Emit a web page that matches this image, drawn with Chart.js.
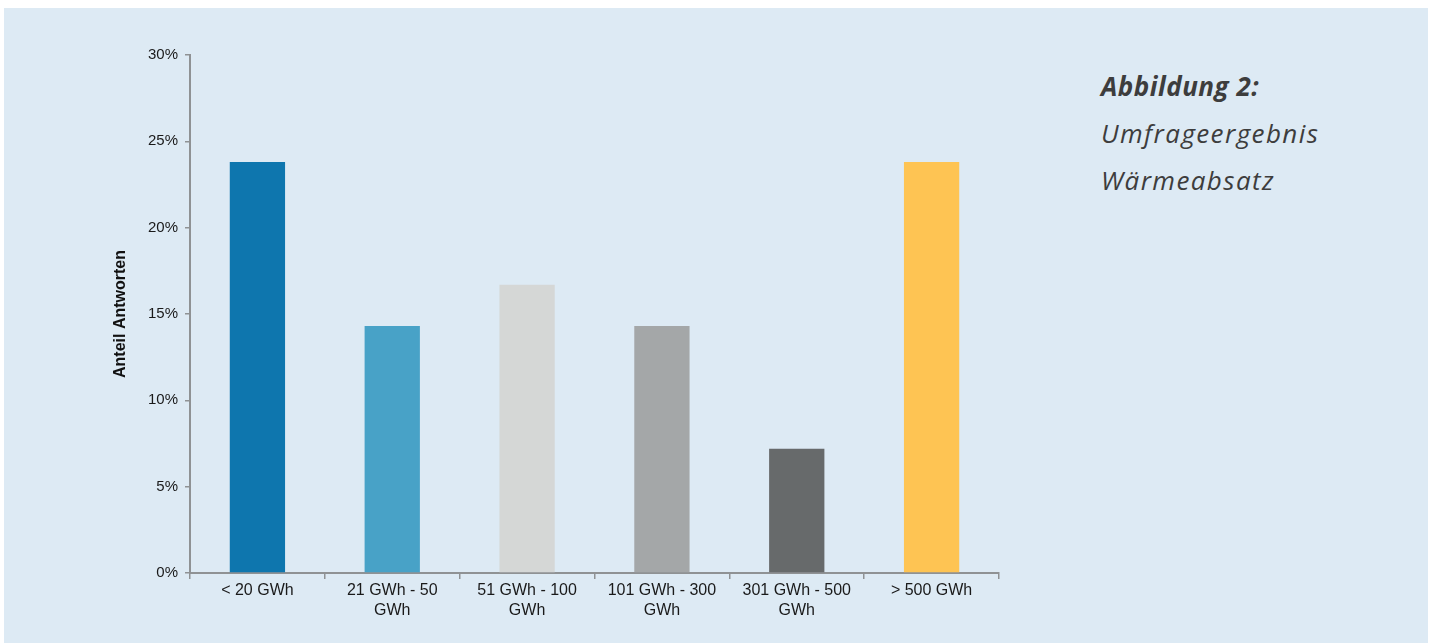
<!DOCTYPE html>
<html lang="de">

<head>
  <meta charset="UTF-8" />
  <title>Umfrageergebnis Wärmeabsatz</title>
  <style>
    html, body { margin: 0; padding: 0; background: #ffffff; }
    .panel {
      position: absolute; left: 4px; top: 8px; width: 1424px; height: 635px;
      background: #ddeaf4;
    }
    .chartbox { position: absolute; left: 0; top: 0; width: 1050px; height: 635px; }
    .caption {
      position: absolute; left: 1097px; top: 55px;
      font-family: "Open Sans", sans-serif; font-style: italic; font-size: 26px;
      line-height: 47px; color: #3d3d3d; letter-spacing: 1.4px;
    }
    .caption b { font-weight: 700; letter-spacing: 0.5px; }
  </style>
</head>

<body>
  <div class="panel">
    <div class="chartbox"><canvas id="chart"></canvas></div>
    <div class="caption"><b>Abbildung 2:</b><br>Umfrageergebnis<br>Wärmeabsatz</div>
  </div>

  <script src="https://cdn.jsdelivr.net/npm/chart.js@4.4.1/dist/chart.umd.min.js"></script>
  <script>
    // Wärmeabsatz-Klassen und Anteil der Antworten (in %)
    var categories = [
      "< 20 GWh",
      ["21 GWh - 50", "GWh"],
      ["51 GWh - 100", "GWh"],
      ["101 GWh - 300", "GWh"],
      ["301 GWh - 500", "GWh"],
      "> 500 GWh"
    ];
    var shares = [23.8, 14.3, 16.7, 14.3, 7.2, 23.8];
    var barColors = ["#0e76ae", "#48a2c7", "#d5d7d6", "#a4a7a8", "#676a6b", "#fec453"];
    var yTicks = [0, 5, 10, 15, 20, 25, 30];

    var axisGray = "#8f9294";
    var fontFamily = "'Liberation Sans', Arial, sans-serif";

    var ctx = document.getElementById("chart").getContext("2d");
    var myChart = new Chart(ctx, {
      type: "bar",
      data: {
        labels: categories,
        datasets: [{
          label: "Anteil Antworten",
          data: shares,
          backgroundColor: barColors,
          borderWidth: 0,
          barPercentage: 0.82,
          categoryPercentage: 0.5
        }]
      },
      options: {
        responsive: true,
        maintainAspectRatio: false,
        animation: false,
        layout: { padding: { left: 0, top: 47, right: 55, bottom: 8 } },
        plugins: { legend: { display: false }, tooltip: { enabled: false } },
        scales: {
          x: {
            grid: { offset: true, drawOnChartArea: false, tickLength: 6, color: axisGray, lineWidth: 1.5 },
            border: { color: axisGray, width: 2 },
            ticks: {
              color: "#1a1a1a", font: { family: fontFamily, size: 16, lineHeight: 1.22 },
              padding: 2, maxRotation: 0, autoSkip: false
            },
            afterFit: function (scale) { scale.height = 62; }
          },
          y: {
            min: 0,
            max: 30,
            afterBuildTicks: function (scale) {
              scale.ticks = yTicks.map(function (v) { return { value: v }; });
            },
            grid: { drawOnChartArea: false, tickLength: 5, color: axisGray, lineWidth: 1.5 },
            border: { color: axisGray, width: 2 },
            ticks: {
              color: "#1a1a1a", font: { family: fontFamily, size: 15 }, padding: 7,
              callback: function (v) { return v + "%"; }
            },
            title: {
              display: true,
              text: "Anteil Antworten",
              color: "#111111",
              font: { family: fontFamily, size: 16, weight: "bold" },
              padding: { top: 0, bottom: 0 }
            },
            afterFit: function (scale) { scale.width = 186; }
          }
        }
      },
      plugins: [{
        // Achsentitel an die richtige Stelle links neben den Ticks schieben
        id: "titleShift",
        beforeDraw: function (chart) {
          chart.scales.y.options.title.padding = { top: 107, bottom: 0 };
        }
      }]
    });
  </script>
</body>

</html>
